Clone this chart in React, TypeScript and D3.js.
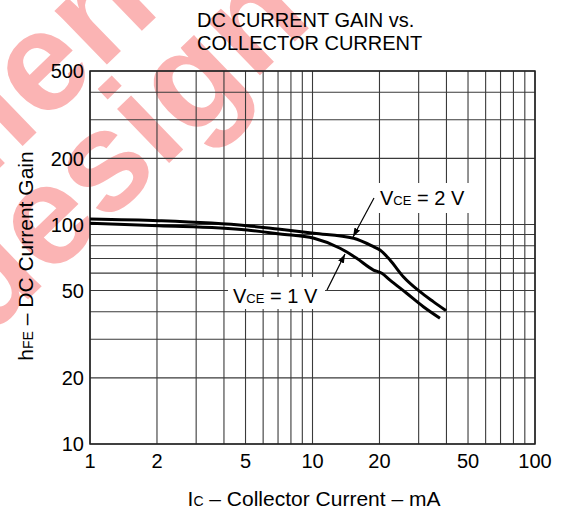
import * as d3 from 'd3'

// grid lines and tick labels (log-log sheet)
const xGrid = [1, 2, 3, 4, 5, 6, 7, 8, 9, 10, 20, 30, 40, 50, 60, 70, 80, 90, 100]
const yGrid = [10, 20, 30, 40, 50, 60, 70, 80, 90, 100, 200, 300, 400, 500]
const xTickLabels = [1, 2, 5, 10, 20, 50, 100]
const yTickLabels = [10, 20, 50, 100, 200, 500]

// collector current (mA) and hFE
const ic2V = [1, 2.04, 5.08, 7.14, 10.15, 15.3, 18.8, 20.1, 22.3, 25.6, 30.4, 34.9, 39.8]
const hfe2V = [105.9, 104.0, 98.7, 95.1, 91.2, 86.5, 79.2, 76.5, 68.9, 57.8, 49.4, 44.5, 40.5]
const ic1V = [1, 2.04, 5.08, 7.14, 10.15, 13.3, 14.2, 15.8, 18.8, 20.5, 22.3, 26.5, 31.5, 37.4]
const hfe1V = [101.2, 98.7, 94.4, 90.5, 86.5, 77.9, 75.1, 70.1, 62.0, 59.9, 55.8, 48.6, 42.2, 37.4]

const W = 564
const H = 513
const margin = { left: 90, right: 29, top: 71, bottom: 69 }
const font = '"Liberation Sans", Arial, Helvetica, sans-serif'

export default function App() {
  const x = d3.scaleLog().domain([1, 100]).range([margin.left, W - margin.right])
  const y = d3.scaleLog().domain([10, 500]).range([H - margin.bottom, margin.top])

  const line = d3.line<[number, number]>()
    .x(d => x(d[0]))
    .y(d => y(d[1]))
    .curve(d3.curveMonotoneX)

  const curve2 = line(ic2V.map((v, i) => [v, hfe2V[i]]))
  const curve1 = line(ic1V.map((v, i) => [v, hfe1V[i]]))

  const [x0, x1] = x.range()
  const [y0, y1] = y.range()
  const gridColor = '#3a3a3a'
  const wm = '#fbb4b4'

  return (
    <svg width={W} height={H} style={{ position: 'absolute', left: 0, top: 0, background: '#fff' }}
      fontFamily={font}>
      <defs>
        <marker id="arrow" viewBox="0 0 10 10" refX="10" refY="5" markerWidth="9" markerHeight="9"
          orient="auto" markerUnits="userSpaceOnUse">
          <path d="M0,1.5 L10,5 L0,8.5 z" fill="#000" />
        </marker>
      </defs>

      {/* watermark */}
      <g fill={wm} fontWeight="bold" fontSize={142}>
        <text transform="translate(-48,214) rotate(-44)">ment</text>
        <text transform="translate(-14,340) rotate(-44)">design</text>
      </g>

      {/* title */}
      <g fontSize={20} fill="#000">
        <text x={197} y={27}>DC CURRENT GAIN vs.</text>
        <text x={197} y={50}>COLLECTOR CURRENT</text>
      </g>

      {/* grid */}
      <g stroke={gridColor} strokeWidth={1.1}>
        {xGrid.map(v => (
          <line key={'x' + v} x1={x(v)} x2={x(v)} y1={y1} y2={y0} />
        ))}
        {yGrid.map(v => (
          <line key={'y' + v} x1={x0} x2={x1} y1={y(v)} y2={y(v)} />
        ))}
      </g>
      <rect x={x0} y={y1} width={x1 - x0} height={y0 - y1} fill="none" stroke="#222" strokeWidth={1.5} />

      {/* tick labels */}
      <g fontSize={20} fill="#000">
        {xTickLabels.map(v => (
          <text key={'xl' + v} x={x(v)} y={y0 + 24} textAnchor="middle">{v}</text>
        ))}
        {yTickLabels.map(v => (
          <text key={'yl' + v} x={x0 - 6} y={y(v)} dy="0.36em" textAnchor="end">{v}</text>
        ))}
      </g>

      {/* curves */}
      <path d={curve2 ?? ''} fill="none" stroke="#000" strokeWidth={3} />
      <path d={curve1 ?? ''} fill="none" stroke="#000" strokeWidth={3} />

      {/* annotations */}
      <rect x={375} y={183} width={97} height={30} fill="#fff" />
      <text x={380} y={205} fontSize={20}>V<tspan fontSize={13}>CE</tspan> = 2 V</text>
      <line x1={374} y1={198} x2={353} y2={237} stroke="#000" strokeWidth={1.2} markerEnd="url(#arrow)" />

      <rect x={228} y={277} width={97} height={32} fill="#fff" />
      <text x={233} y={303} fontSize={20}>V<tspan fontSize={13}>CE</tspan> = 1 V</text>
      <line x1={327} y1={290} x2={345} y2={254} stroke="#000" strokeWidth={1.2} markerEnd="url(#arrow)" />

      {/* axis titles */}
      <text x={314} y={506} fontSize={21} textAnchor="middle">
        I<tspan fontSize={14}>C</tspan> – Collector Current – mA
      </text>
      <text transform="translate(33,256) rotate(-90)" fontSize={21} textAnchor="middle">
        h<tspan fontSize={14}>FE</tspan> – DC Current Gain
      </text>
    </svg>
  )
}
